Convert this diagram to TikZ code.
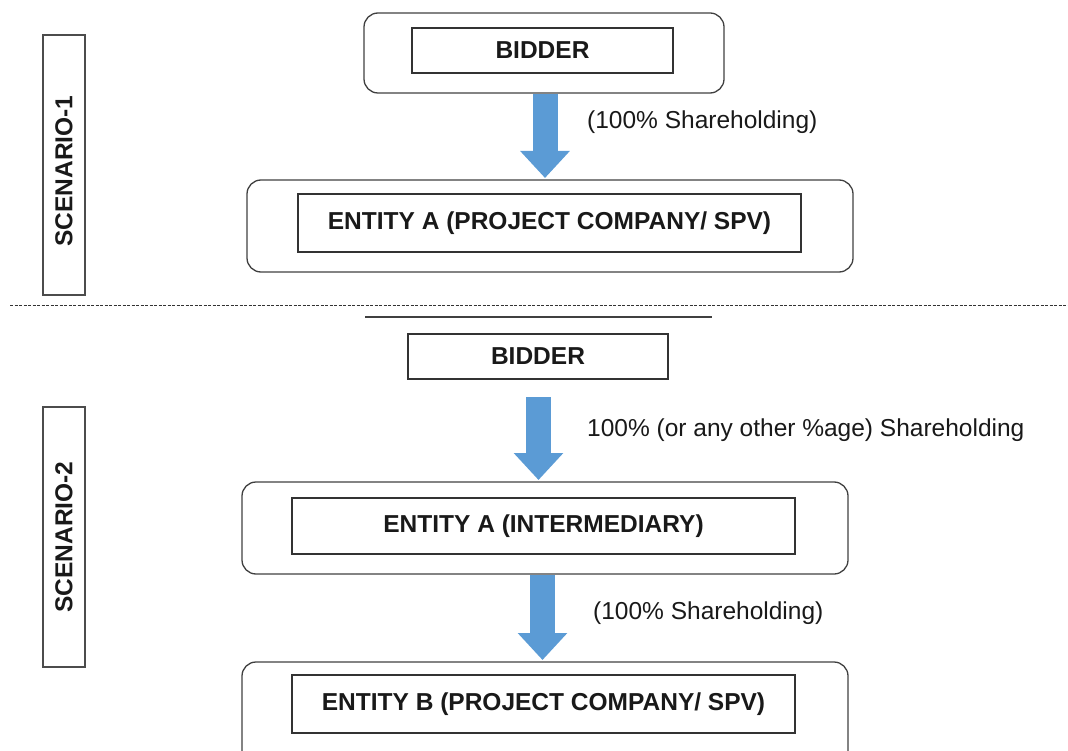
\documentclass[tikz,border=0pt]{standalone}
\usepackage{fontspec}
\setmainfont{Liberation Sans}
\usetikzlibrary{arrows.meta}
\definecolor{arrowblue}{HTML}{5B9BD5}

\begin{document}
\begin{tikzpicture}[x=1pt,y=-1pt,
        every node/.style={inner sep=0pt, text=black!90},
        outerbox/.style={draw=black!75, line width=1.3pt, rounded corners=14pt},
        innerbox/.style={draw=black!80, line width=1.3pt, font=\fontsize{24.5}{28}\selectfont\bfseries},
        sidebox/.style={draw=black!70, line width=1.3pt, minimum width=42pt, minimum height=260pt},
        sidetext/.style={rotate=90, font=\fontsize{24.5}{28}\selectfont\bfseries},
        sharelabel/.style={anchor=west, font=\fontsize{24.5}{28}\selectfont},
        holding/.style={draw=arrowblue, line width=25pt,
            -{Triangle[width=48pt,length=27pt]}, shorten >=1pt}
    ]
    \useasboundingbox (0,0) rectangle (1068,751);

    % scenario 1
    \node[outerbox, minimum width=360pt, minimum height=80pt] (bid1) at (544,53) {};
    \node[innerbox, minimum width=261pt, minimum height=45pt] (bid1in) at (542.5,50.5) {BIDDER};
    \node[outerbox, minimum width=606pt, minimum height=92pt] (ent1) at (550,226) {};
    \node[innerbox, minimum width=503pt, minimum height=58pt] (ent1in) at (549.5,223) {ENTITY A (PROJECT COMPANY/ SPV)};
    \draw[holding] (bid1.south -| 545,0) -- (545,179);
    \node[sharelabel] (lab1) at (587,122) {(100\% Shareholding)};
    \node[sidebox] (sc1) at (64,165) {};
    \node[sidetext] at (64,171) {SCENARIO-1};

    % separator
    \draw[black!80, line width=1pt, dash pattern=on 3pt off 1.5pt] (10,306) -- (1068,306);
    \draw[black!75, line width=1.5pt] (365,317) -- (712,317);

    % scenario 2
    \node[innerbox, minimum width=260pt, minimum height=45pt] (bid2) at (538,356.5) {BIDDER};
    \node[outerbox, minimum width=606pt, minimum height=92pt] (ent2) at (545,528) {};
    \node[innerbox, minimum width=503pt, minimum height=56pt] (ent2in) at (543.5,526) {ENTITY A (INTERMEDIARY)};
    \node[outerbox, minimum width=606pt, minimum height=110pt] (ent3) at (545,717) {};
    \node[innerbox, minimum width=503pt, minimum height=58pt] (ent3in) at (543.5,704) {ENTITY B (PROJECT COMPANY/ SPV)};
    \draw[holding] (538.5,397) -- (538.5,481);
    \draw[holding] (ent2.south -| 542.5,0) -- (542.5,661);
    \node[sharelabel] (lab2) at (587,430) {100\% (or any other \%age) Shareholding};
    \node[sharelabel] (lab3) at (593,613) {(100\% Shareholding)};
    \node[sidebox] (sc2) at (64,537) {};
    \node[sidetext] at (64,537) {SCENARIO-2};
\end{tikzpicture}
\end{document}
